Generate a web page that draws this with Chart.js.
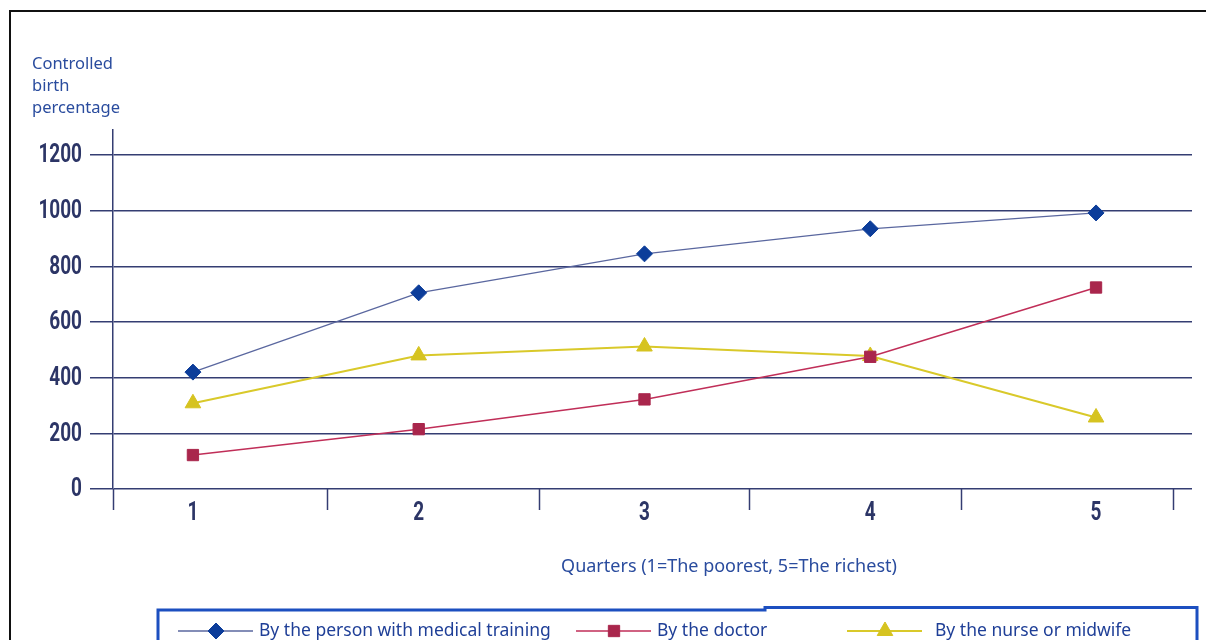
<!DOCTYPE html>
<html>
<head>
<meta charset="utf-8">
<title>Controlled birth percentage by quarter</title>
<script src="https://cdn.jsdelivr.net/npm/chart.js@4.4.1/dist/chart.umd.min.js"></script>
<style>
  html, body { margin: 0; padding: 0; background: #ffffff; }
  canvas { display: block; }
</style>
</head>
<body>
<canvas id="chart" width="1206" height="640"></canvas>
<script>
// ---- data ----
const quarters = [1, 2, 3, 4, 5];
const quarterLabels = ['1', '2', '3', '4', '5'];
const medicalTraining = [420, 705, 845, 935, 992];
const byDoctor = [122, 215, 322, 475, 724];
const byNurseMidwife = [308, 480, 512, 478, 257];
const yTickValues = [0, 200, 400, 600, 800, 1000, 1200];
const seriesNames = ['By the person with medical training', 'By the doctor', 'By the nurse or midwife'];
const yAxisTitle = ['Controlled', 'birth', 'percentage'];
const xAxisTitle = 'Quarters (1=The poorest, 5=The richest)';

// separator marks drawn under the x axis between the quarters
const quarterSeparators = [1.594, 2.533, 3.467, 4.406, 5.341];

// ---- styling ----
const NAVY = '#343d72';
const LABEL_NAVY = '#2c3566';
const TEXT_BLUE = '#2a4c9e';
const LEGEND_BLUE = '#1f3f97';
const SANS = '"Noto Sans", "Open Sans", sans-serif';
const DIGITS = '700 25px Roboto, "Liberation Sans", sans-serif';
const Y_TICK_LEN = 23;
const Y_TICK_PAD = 8;

const toPoints = vals => vals.map((v, i) => ({ x: quarters[i], y: v }));

const datasets = [
  {
    label: seriesNames[0], data: toPoints(medicalTraining),
    borderColor: '#5a679f', borderWidth: 1.3,
    pointStyle: 'rectRot', pointRadius: 8,
    pointBackgroundColor: '#0c3d9a', pointBorderColor: '#0c3d9a', pointBorderWidth: 1
  },
  {
    label: seriesNames[1], data: toPoints(byDoctor),
    borderColor: '#c02e58', borderWidth: 1.5,
    pointStyle: 'rect', pointRadius: 8,
    pointBackgroundColor: '#a9264c', pointBorderColor: '#a9264c', pointBorderWidth: 1
  },
  {
    label: seriesNames[2], data: toPoints(byNurseMidwife),
    borderColor: '#d9c92a', borderWidth: 2,
    pointStyle: 'triangle', pointRadius: 9,
    pointBackgroundColor: '#d6c320', pointBorderColor: '#d6c320', pointBorderWidth: 1
  }
];

// outer frame (top and left rules)
const framePlugin = {
  id: 'frame',
  beforeDraw(chart) {
    const ctx = chart.ctx;
    ctx.save();
    ctx.fillStyle = '#ffffff';
    ctx.fillRect(0, 0, chart.width, chart.height);
    ctx.strokeStyle = '#111111';
    ctx.lineWidth = 2;
    ctx.beginPath();
    ctx.moveTo(10, chart.height);
    ctx.lineTo(10, 11);
    ctx.lineTo(chart.width, 11);
    ctx.stroke();
    ctx.restore();
  }
};

// tall, narrow tick numbers for both axes, placed from the chart's scales
const tickLabelPlugin = {
  id: 'condensedTickLabels',
  afterDraw(chart) {
    const ctx = chart.ctx;
    const { x, y } = chart.scales;
    const drawNarrow = (text, px, py, align) => {
      ctx.save();
      ctx.translate(px, py);
      ctx.scale(0.76, 1);
      ctx.textAlign = align;
      ctx.fillText(text, 0, 0);
      ctx.restore();
    };
    ctx.save();
    ctx.font = DIGITS;
    ctx.fillStyle = LABEL_NAVY;
    ctx.textBaseline = 'middle';
    const labelRight = y.right - Y_TICK_LEN - Y_TICK_PAD;
    y.ticks.forEach(t => drawNarrow(String(t.value), labelRight, y.getPixelForValue(t.value) + 1, 'right'));
    quarters.forEach((q, i) => drawNarrow(quarterLabels[i], x.getPixelForValue(q), x.top + 25, 'center'));
    ctx.restore();
  }
};

// x axis caption, placed under the quarter labels
const captionPlugin = {
  id: 'xCaption',
  afterDraw(chart) {
    const ctx = chart.ctx;
    ctx.save();
    ctx.font = '18px ' + SANS;
    ctx.fillStyle = TEXT_BLUE;
    ctx.textAlign = 'center';
    ctx.textBaseline = 'middle';
    ctx.fillText(xAxisTitle, 729, 567);
    ctx.restore();
  }
};

// boxed legend: line sample with marker, then the series name
const legendPlugin = {
  id: 'boxedLegend',
  afterDraw(chart) {
    const ctx = chart.ctx;
    const starts = [178, 576, 847];
    const textGaps = [6, 6, 13];
    const cy = 631;
    ctx.save();
    ctx.strokeStyle = '#1c4fc0';
    ctx.lineWidth = 3;
    ctx.beginPath();
    ctx.moveTo(158, chart.height + 4);
    ctx.lineTo(158, 610);
    ctx.lineTo(765, 610);
    ctx.lineTo(765, 607.5);
    ctx.lineTo(1197, 607.5);
    ctx.lineTo(1197, chart.height + 4);
    ctx.stroke();

    chart.data.datasets.forEach((ds, i) => {
      const x0 = starts[i];
      ctx.strokeStyle = ds.borderColor;
      ctx.lineWidth = ds.borderWidth;
      ctx.beginPath();
      ctx.moveTo(x0, cy);
      ctx.lineTo(x0 + 75, cy);
      ctx.stroke();
      ctx.fillStyle = ds.pointBackgroundColor;
      ctx.strokeStyle = ds.pointBorderColor;
      ctx.lineWidth = 1;
      Chart.helpers.drawPoint(ctx, {
        pointStyle: ds.pointStyle, radius: ds.pointRadius, rotation: 0, borderWidth: 1
      }, x0 + 38, cy);
      ctx.font = '17.5px ' + SANS;
      ctx.fillStyle = LEGEND_BLUE;
      ctx.textAlign = 'left';
      ctx.textBaseline = 'middle';
      ctx.fillText(ds.label, x0 + 75 + textGaps[i], cy);
    });
    ctx.restore();
  }
};

new Chart(document.getElementById('chart'), {
  type: 'line',
  data: { labels: quarterLabels, datasets },
  plugins: [framePlugin, tickLabelPlugin, captionPlugin, legendPlugin],
  options: {
    responsive: false,
    animation: false,
    layout: { padding: { left: 32, right: 14, top: 0, bottom: 0 } },
    plugins: {
      legend: { display: false },
      tooltip: { enabled: false },
      title: {
        display: true,
        text: yAxisTitle,
        align: 'start',
        color: TEXT_BLUE,
        font: { family: SANS, size: 16.5, weight: 'normal', lineHeight: '22px' },
        padding: { top: 53, bottom: 11 }
      }
    },
    scales: {
      x: {
        type: 'linear',
        min: 0.646,
        max: 5.425,
        afterBuildTicks(scale) {
          const vals = [scale.min, ...quarters, ...quarterSeparators].sort((a, b) => a - b);
          scale.ticks = vals.map(v => ({ value: v }));
        },
        afterFit(scale) { scale.height = 151; },
        ticks: { display: false, autoSkip: false, maxRotation: 0 },
        grid: {
          drawOnChartArea: false,
          tickLength: 21,
          tickWidth: 1.5,
          tickColor: ctx => (ctx.tick && quarters.includes(ctx.tick.value)) ? 'rgba(0,0,0,0)' : NAVY
        },
        border: { display: false }
      },
      y: {
        min: 0,
        max: 1290,
        afterBuildTicks(scale) { scale.ticks = yTickValues.map(v => ({ value: v })); },
        afterFit(scale) { scale.width = 81; },
        ticks: { display: false },
        grid: { color: NAVY, lineWidth: 1.5, tickLength: Y_TICK_LEN },
        border: { display: true, color: NAVY, width: 1.5 }
      }
    }
  }
});
</script>
</body>
</html>
